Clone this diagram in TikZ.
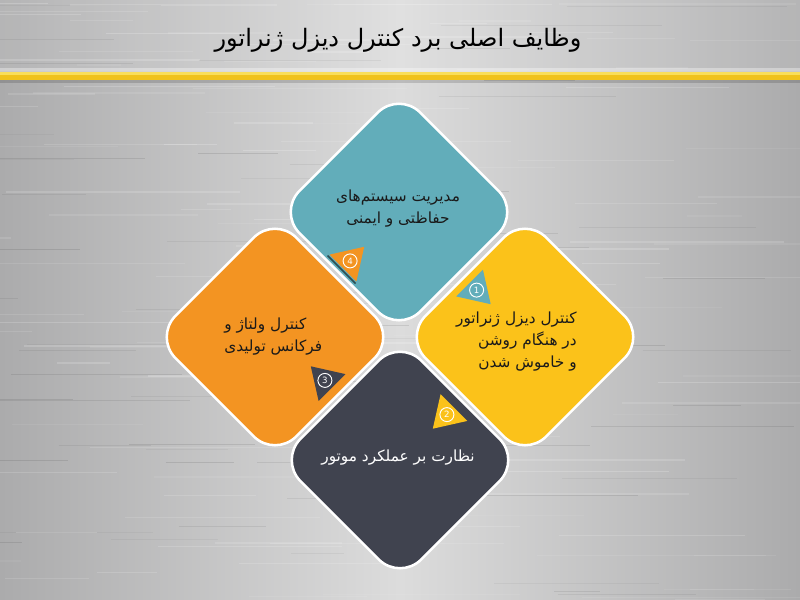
\documentclass[tikz,border=0pt]{standalone}
\usepackage{fontspec}
\newfontfamily\fa[Script=Arabic]{DejaVu Sans}
\newfontfamily\numfont{DejaVu Sans}
\TeXXeTstate=1
\definecolor{cteal}{HTML}{62ADBA}
\definecolor{corange}{HTML}{F39422}
\definecolor{cyellow}{HTML}{FBC21A}
\definecolor{cdark}{HTML}{40434F}
\definecolor{ctext}{HTML}{1A1A1A}
\definecolor{cband}{HTML}{F0C21C}
\definecolor{cbandhi}{HTML}{F9DE5A}
\definecolor{bgedge}{HTML}{ABABAC}
\definecolor{bgmid}{HTML}{DCDCDC}
\begin{document}
\begin{tikzpicture}[x=0.75pt,y=-0.75pt,
  diam/.style={rectangle, rotate=45, minimum size=128pt, rounded corners=22.5pt, draw=white, line width=1.9pt, inner sep=0pt},
  lbl/.style={font=\fa\fontsize{11.5}{16.5}\selectfont, text=ctext, inner sep=0pt},
  numc/.style={circle, draw=white, line width=0.7pt, minimum size=10.5pt, inner sep=0pt, text=white, font=\numfont\fontsize{6.5}{7}\selectfont},
  tri/.style={line join=round}
]
\useasboundingbox (0,0) rectangle (800,600);
% background
\shade[left color=bgedge, right color=bgedge, middle color=bgmid] (0,0) rectangle (800,600);
\shade[left color=white, right color=white, middle color=white, opacity=0.12] (0,0) rectangle (800,70);
\pgfmathsetseed{42}
\foreach \i in {1,...,120} {
  \pgfmathsetmacro\yy{rnd*600}
  \pgfmathsetmacro\xa{rnd*800-100}
  \pgfmathsetmacro\len{40+rnd*200}
  \pgfmathsetmacro\op{0.05+rnd*0.15}
  \draw[white, opacity=\op, line width=1pt] (\xa,\yy) -- ++(\len,0);
}
\foreach \i in {1,...,60} {
  \pgfmathsetmacro\yy{rnd*600}
  \pgfmathsetmacro\xa{rnd*800-100}
  \pgfmathsetmacro\len{40+rnd*200}
  \pgfmathsetmacro\op{0.03+rnd*0.07}
  \draw[black, opacity=\op, line width=0.6pt] (\xa,\yy) -- ++(\len,0);
}
% band
\fill[white, opacity=0.35] (0,68) rectangle (800,72);
\fill[cband] (0,72) rectangle (800,80);
\fill[cbandhi] (0,72) rectangle (800,74.5);
\fill[black, opacity=0.15] (0,80) rectangle (800,83);
% title
\node[font=\fa\fontsize{18}{21}\selectfont, text=black, inner sep=0pt] (title) at (398,40) {\beginR وظایف اصلی برد کنترل دیزل ژنراتور\endR};
% diamonds
\node[diam, fill=cteal] (teal) at (399,212) {};
\node[diam, fill=corange] (orange) at (275,337) {};
\node[diam, fill=cyellow] (yellow) at (525,337) {};
\node[diam, fill=cdark] (dark) at (400,460) {};
% labels
\node[lbl, align=center] (tealtxt) at (398,209) {\beginR مدیریت سیستم‌های\endR\\\beginR حفاظتی و ایمنی\endR};
\node[lbl, align=left, anchor=west] (orangetxt) at (224,337) {\beginR کنترل ولتاژ و\endR\\\beginR فرکانس تولیدی\endR};
\node[lbl, align=right, anchor=east] (yellowtxt) at (577,342) {\beginR کنترل دیزل ژنراتور\endR\\\beginR در هنگام روشن\endR\\\beginR و خاموش شدن\endR};
\node[lbl, text=white] (darktxt) at (398,458) {\beginR نظارت بر عملکرد موتور\endR};
% triangles
\draw[black, opacity=0.55, line width=1.2pt] (327.5,255.5) -- (355.5,283.5);
\fill[corange, tri] (329.6,254.6) -- (356.4,281.4) -- (364.2,246.8) -- cycle;
\fill[cteal, tri] (456.1,296.4) -- (482.9,269.6) -- (490.7,304.2) -- cycle;
\fill[cdark, tri] (318.6,400.9) -- (345.4,374.1) -- (310.8,366.3) -- cycle;
\fill[cyellow, tri] (440.6,394.1) -- (467.4,420.9) -- (432.8,428.7) -- cycle;
\node[numc] (n4) at (350.1,260.9) {4};
\node[numc] (n1) at (476.6,290.1) {1};
\node[numc] (n3) at (324.9,380.4) {3};
\node[numc] (n2) at (446.9,414.6) {2};
\end{tikzpicture}
\end{document}
